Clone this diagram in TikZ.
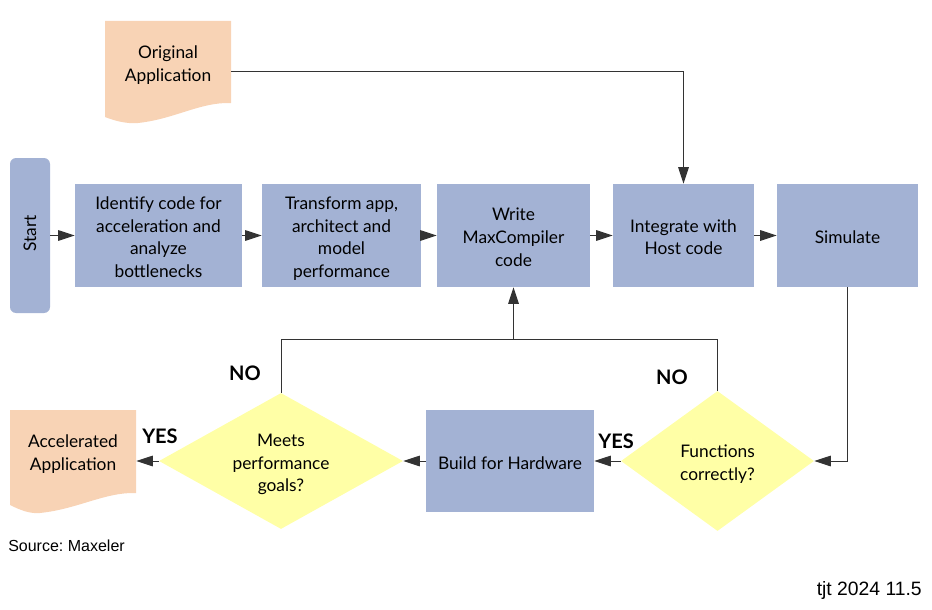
\documentclass[tikz,border=0pt]{standalone}
\usepackage{fontspec}
\setmainfont{Lato}
\newfontfamily\arialfont{Liberation Sans}
\usetikzlibrary{arrows.meta,shapes.geometric}
\definecolor{boxblue}{RGB}{163,178,212}
\definecolor{docpeach}{RGB}{248,211,181}
\definecolor{diayellow}{RGB}{255,255,166}
\newcommand\linestrut{\rule[-3pt]{0pt}{18pt}}
\frenchspacing
\begin{document}
\begin{tikzpicture}[x=0.75pt,y=-0.75pt,
        stepbox/.style={fill=boxblue, inner sep=0pt, align=center, minimum height=103*0.75pt,
            font=\fontsize{13}{17}\selectfont,
            execute at begin node=\linestrut, execute at end node=\linestrut},
        decision/.style={diamond, fill=diayellow, inner sep=0pt, align=center,
            font=\fontsize{13}{17}\selectfont,
            execute at begin node=\linestrut, execute at end node=\linestrut},
        docbox/.style={inner sep=0pt, minimum width=126*0.75pt, minimum height=102*0.75pt},
        answer/.style={font=\fontsize{15}{18}\selectfont\bfseries},
        flow/.style={draw=black!80, line width=0.75pt, -{Triangle[length=12.5pt,width=8pt]}},
        line/.style={draw=black!80, line width=0.75pt}]
        \useasboundingbox (0,0) rectangle (932,610);
        % document shapes
        \fill [docpeach, shift={(105,21)}] (0,0) -- (126,0) -- (126,82)
            .. controls (95,81) and (70,98) .. (33,102) .. controls (22,103) and (10,100) .. (0,96) -- cycle;
        \fill [docpeach, shift={(10,410)}] (0,0) -- (126,0) -- (126,83)
            .. controls (95,82) and (68,99) .. (30,103) .. controls (20,104) and (10,100) .. (0,95) -- cycle;
        \node [docbox, label={[yshift=5.25pt, align=center, font=\fontsize{13}{17}\selectfont]center:Original\\Application}] (orig) at (168,72) {};
        \node [docbox, label={[yshift=5.25pt, align=center, font=\fontsize{13}{17}\selectfont]center:Accelerated\\Application}] (accel) at (73,461) {};
        % main row
        \node [stepbox, rounded corners=4.5pt, minimum width=40*0.75pt, minimum height=155*0.75pt] (start) at (30,235.5) {\rotatebox{90}{Start}};
        \node [stepbox, minimum width=167*0.75pt] (ident) at (158.5,235.5) {\linestrut Identify code for\\acceleration and\\analyze\\bottlenecks};
        \node [stepbox, minimum width=159*0.75pt] (transf) at (341.5,235.5) {\linestrut Transform app,\\architect and\\model\\performance};
        \node [stepbox, minimum width=153*0.75pt] (write) at (513.5,235.5) {\linestrut Write\\MaxCompiler\\code};
        \node [stepbox, minimum width=141*0.75pt] (integ) at (683.5,235.5) {\linestrut Integrate with\\Host code};
        \node [stepbox, minimum width=141*0.75pt] (simul) at (847.5,235.5) {Simulate};
        % bottom row
        \node [decision, minimum width=193*0.75pt, minimum height=140*0.75pt, aspect=1.38] (func) at (717.5,461) {\linestrut Functions\\correctly?};
        \node [stepbox, minimum width=168*0.75pt, minimum height=102*0.75pt] (build) at (510,461) {Build for Hardware};
        \node [decision, minimum width=244*0.75pt, minimum height=136*0.75pt, aspect=1.8] (meets) at (281,461) {\linestrut Meets\\performance\\goals?};
        \coordinate (join) at (513.5,339.5);
        % connectors
        \draw [flow] (start) -- (ident);
        \draw [flow] (ident) -- (transf);
        \draw [flow] (transf) -- (write);
        \draw [flow] (write) -- (integ);
        \draw [flow] (integ) -- (simul);
        \draw [flow] (orig.east) -| (integ.north);
        \draw [flow] (simul.south) |- (func.east);
        \draw [flow] (func.west) -- (build.east);
        \draw [flow] (build.west) -- (meets.east);
        \draw [flow] (meets.west) -- (accel.east);
        \draw [line] (func.north) |- (join);
        \draw [flow] (meets.north) |- (join) -- (write.south);
        % answers
        \node [answer] (no1) at (245,373) {NO};
        \node [answer] (no2) at (672,377) {NO};
        \node [answer] (yes1) at (160,436) {YES};
        \node [answer] (yes2) at (616,441) {YES};
        \node [anchor=west, inner sep=0pt, font=\arialfont\fontsize{12}{14}\selectfont] (src) at (8,546) {Source: Maxeler};
        \node [anchor=east, inner sep=0pt, font=\arialfont\fontsize{14.5}{17}\selectfont] (tag) at (922,590) {tjt 2024 11.5};
\end{tikzpicture}
\end{document}
